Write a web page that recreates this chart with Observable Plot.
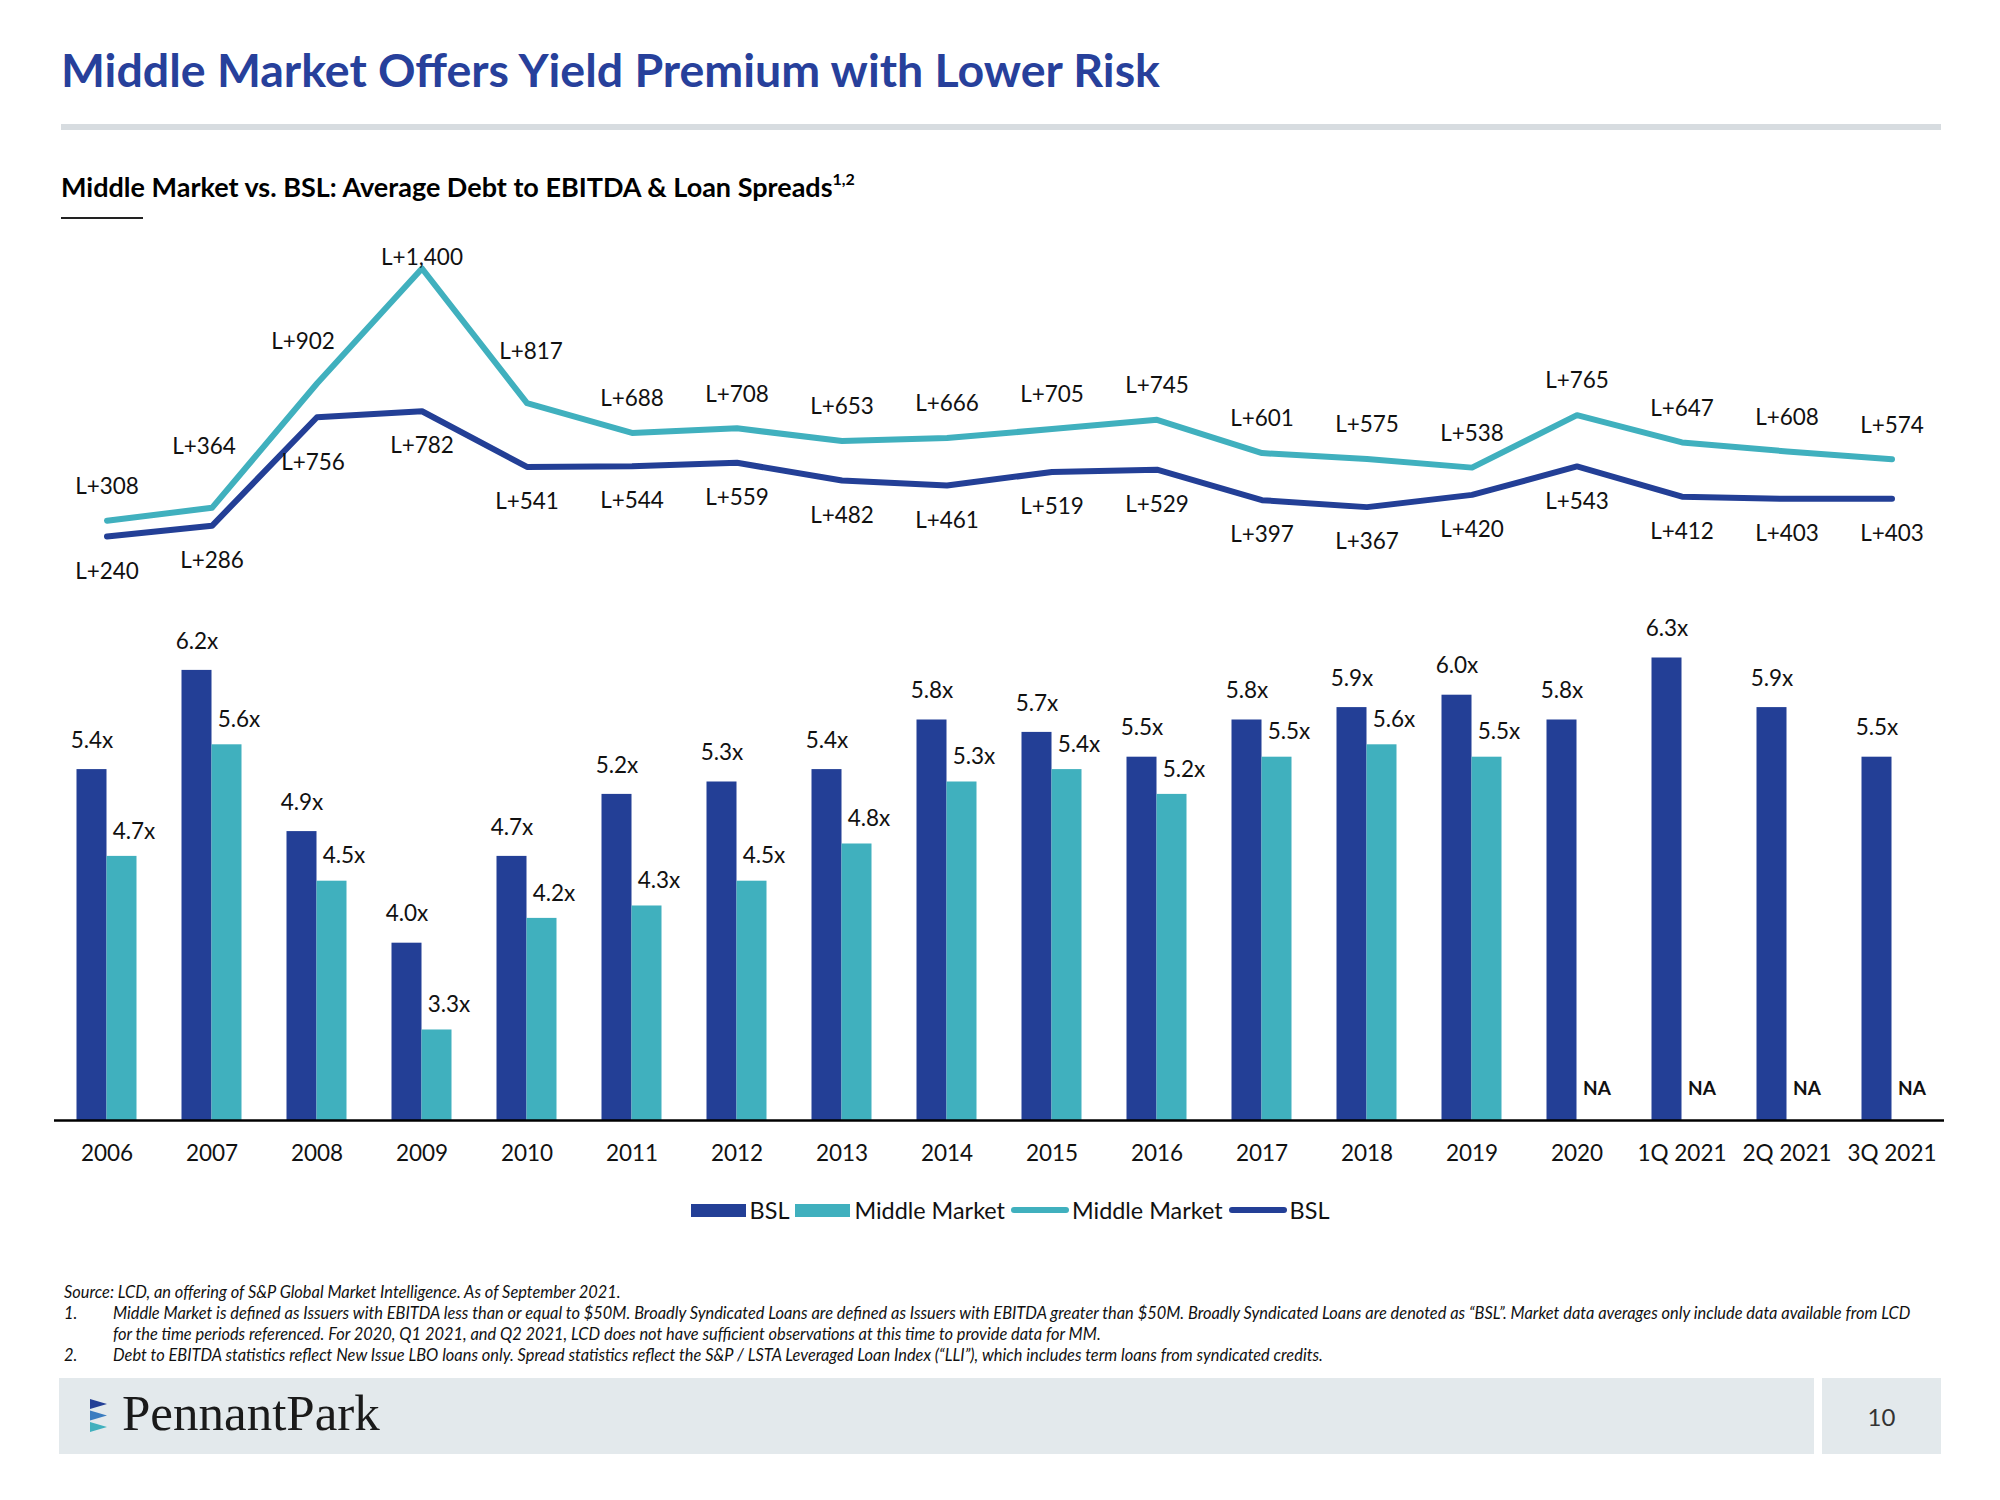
<!DOCTYPE html>
<html><head><meta charset="utf-8">
<script src="https://cdn.jsdelivr.net/npm/d3@7"></script>
<script src="https://cdn.jsdelivr.net/npm/@observablehq/plot@0.6"></script>
<style>
html,body{margin:0;padding:0}
body{width:2000px;height:1500px;position:relative;background:#fff;font-family:Lato,"Open Sans",sans-serif;overflow:hidden;color:#111}
.abs{position:absolute}
#title{left:61px;top:41px;font-size:46.5px;font-weight:700;color:#27409B;white-space:nowrap}
#rule{left:61px;top:124px;width:1880px;height:6px;background:#D7DCE0}
#subtitle{left:61px;top:170px;font-size:27px;font-weight:700;color:#000;white-space:nowrap}
#subtitle sup{font-size:16px;position:relative;top:-2px}
#underline{left:61px;top:217px;width:82px;height:1.5px;background:#222}
#legend{left:0;top:1196px;width:2000px;display:flex;justify-content:center;align-items:center;font-size:23.4px;color:#111;padding-left:26px;box-sizing:border-box}
#legend .sw{width:55px;height:13px;display:inline-block;margin-right:4px}
#legend .ln{width:58px;height:6px;border-radius:3px;display:inline-block;margin-right:3px}
#legend span.t{margin-right:6px}
.fn{font-style:italic;font-size:16.4px;white-space:nowrap;color:#111}
#footer{left:59px;top:1378px;width:1755px;height:76px;background:#E3E9EC}
#pagebox{left:1822px;top:1378px;width:119px;height:76px;background:#E3E9EC;display:flex;align-items:center;justify-content:center;font-size:24px;color:#333}
#brand{left:122px;top:1384px;font-family:"Liberation Serif","DejaVu Serif",serif;font-size:51px;color:#1a1a1a;white-space:nowrap}
</style></head><body>
<div id="title" class="abs">Middle Market Offers Yield Premium with Lower Risk</div>
<div id="rule" class="abs"></div>
<div id="subtitle" class="abs">Middle Market vs. BSL: Average Debt to EBITDA &amp; Loan Spreads<sup>1,2</sup></div>
<div id="underline" class="abs"></div>
<div id="lines" class="abs" style="left:0;top:220px"></div>
<div id="bars" class="abs" style="left:0;top:600px"></div>
<div id="legend" class="abs">
  <span class="sw" style="background:#233F96"></span><span class="t">BSL</span>
  <span class="sw" style="background:#40B0BE"></span><span class="t">Middle Market</span>
  <span class="ln" style="background:#40B0BE"></span><span class="t">Middle Market</span>
  <span class="ln" style="background:#233F96"></span><span class="t">BSL</span>
</div>
<div class="abs fn" style="left:64px;top:1282px">Source: LCD, an offering of S&amp;P Global Market Intelligence. As of September 2021.</div>
<div class="abs fn" style="left:64px;top:1303px">1.</div>
<div class="abs fn" style="left:113px;top:1303px">Middle Market is defined as Issuers with EBITDA less than or equal to $50M. Broadly Syndicated Loans are defined as Issuers with EBITDA greater than $50M. Broadly Syndicated Loans are denoted as “BSL”. Market data averages only include data available from LCD</div>
<div class="abs fn" style="left:113px;top:1324px">for the time periods referenced. For 2020, Q1 2021, and Q2 2021, LCD does not have sufficient observations at this time to provide data for MM.</div>
<div class="abs fn" style="left:64px;top:1345px">2.</div>
<div class="abs fn" style="left:113px;top:1345px">Debt to EBITDA statistics reflect New Issue LBO loans only. Spread statistics reflect the S&amp;P / LSTA Leveraged Loan Index (“LLI”), which includes term loans from syndicated credits.</div>
<div id="footer" class="abs"></div>
<div id="pagebox" class="abs">10</div>
<svg class="abs" style="left:89px;top:1398px" width="22" height="36" viewBox="0 0 22 36">
  <polygon points="1,1 18,6 1,11" fill="#233F96"/>
  <polygon points="1,12.5 18,17.5 1,22.5" fill="#3A7CC0"/>
  <polygon points="1,24 18,29 1,34" fill="#40B0BE"/>
</svg>
<div id="brand" class="abs">PennantPark</div>
<script>
const categories = ["2006","2007","2008","2009","2010","2011","2012","2013","2014","2015","2016","2017","2018","2019","2020","1Q 2021","2Q 2021","3Q 2021"];
const bslLeverage = [5.4,6.2,4.9,4.0,4.7,5.2,5.3,5.4,5.8,5.7,5.5,5.8,5.9,6.0,5.8,6.3,5.9,5.5];
const mmLeverage  = [4.7,5.6,4.5,3.3,4.2,4.3,4.5,4.8,5.3,5.4,5.2,5.5,5.6,5.5,null,null,null,null];
const mmSpread  = [308,364,902,1400,817,688,708,653,666,705,745,601,575,538,765,647,608,574];
const bslSpread = [240,286,756,782,541,544,559,482,461,519,529,397,367,420,543,412,403,403];

const C_BSL = "#233F96", C_MM = "#40B0BE", TXT = "#111";
const FONT = "Lato, 'Open Sans', sans-serif";
const FS = 22.5;

// label nudges (layout only) for crowded labels: [dx, dy]
const mmNudge = {"2007":[-8,-61],"2008":[-14,-42],"2009":[0,-11],"2010":[4,-51]};
const bslNudge = {"2008":[-4,46]};

const spreadRows = categories.map((c,i)=>({cat:c, mm:mmSpread[i], bsl:bslSpread[i]}));
const levRows = categories.map((c,i)=>({cat:c, bsl:bslLeverage[i], mm:mmLeverage[i]}));
const fmtL = v => "L+" + d3.format(",")(v);
const fmtX = v => d3.format(".1f")(v) + "x";

const xScale = {domain: categories, range: [54, 1944], padding: 0};

// ---- Spread lines (top) ----
const mmStd = spreadRows.filter(d => !mmNudge[d.cat]);
const bslStd = spreadRows.filter(d => !bslNudge[d.cat]);
const nudgeMarks = [];
for (const [c,[dx,dy]] of Object.entries(mmNudge)) {
  nudgeMarks.push(Plot.text(spreadRows.filter(d=>d.cat===c), {x:"cat", y:"mm", text:d=>fmtL(d.mm), dx, dy, fontSize:FS, fill:TXT}));
}
for (const [c,[dx,dy]] of Object.entries(bslNudge)) {
  nudgeMarks.push(Plot.text(spreadRows.filter(d=>d.cat===c), {x:"cat", y:"bsl", text:d=>fmtL(d.bsl), dx, dy, fontSize:FS, fill:TXT}));
}
const spreadChart = Plot.plot({
  width: 2000, height: 380,
  marginLeft: 54, marginRight: 56, marginTop: 0, marginBottom: 0,
  style: {fontFamily: FONT, fontSize: FS + "px", color: TXT, background: "transparent", overflow: "visible"},
  x: {...xScale, type: "band", axis: null},
  y: {domain: [0, 1600], range: [371.4, 1.8], axis: null},
  marks: [
    Plot.lineY(spreadRows, {x: "cat", y: "mm", stroke: C_MM, strokeWidth: 6, strokeLinecap: "round", strokeLinejoin: "round"}),
    Plot.lineY(spreadRows, {x: "cat", y: "bsl", stroke: C_BSL, strokeWidth: 6, strokeLinecap: "round", strokeLinejoin: "round"}),
    Plot.text(mmStd, {x: "cat", y: "mm", text: d => fmtL(d.mm), dy: -34, fontSize: FS, fill: TXT}),
    Plot.text(bslStd, {x: "cat", y: "bsl", text: d => fmtL(d.bsl), dy: 35, fontSize: FS, fill: TXT}),
    ...nudgeMarks
  ]
});
document.getElementById("lines").appendChild(spreadChart);

// ---- Leverage bars (bottom) ----
const yMin = 2.57;
const mmRows = levRows.filter(d => d.mm != null);
const naRows = levRows.filter(d => d.mm == null);
const barChart = Plot.plot({
  width: 2000, height: 570,
  marginLeft: 54, marginRight: 56, marginTop: 0, marginBottom: 50,
  style: {fontFamily: FONT, fontSize: FS + "px", color: TXT, background: "transparent", overflow: "visible"},
  x: {...xScale, type: "band", tickSize: 0, tickPadding: 25, label: null},
  y: {domain: [yMin, 6.3], range: [520, 57.5], axis: null},
  marks: [
    Plot.barY(levRows, {x: "cat", y1: yMin, y2: "bsl", fill: C_BSL, insetLeft: 22.5, insetRight: 52.5}),
    Plot.barY(mmRows, {x: "cat", y1: yMin, y2: "mm", fill: C_MM, insetLeft: 52.5, insetRight: 22.5}),
    Plot.text(levRows, {x: "cat", y: "bsl", text: d => fmtX(d.bsl), dx: -15, dy: -29, fontSize: FS, fill: TXT}),
    Plot.text(mmRows, {x: "cat", y: "mm", text: d => fmtX(d.mm), dx: 27, dy: -25, fontSize: FS, fill: TXT}),
    Plot.text(naRows, {x: "cat", text: () => "NA", frameAnchor: "bottom", dx: 20, dy: -26, fontSize: 19, fontWeight: 700, fill: TXT}),
    Plot.ruleY([yMin], {stroke: "#000", strokeWidth: 2.5})
  ]
});
document.getElementById("bars").appendChild(barChart);
</script>
</body></html>
